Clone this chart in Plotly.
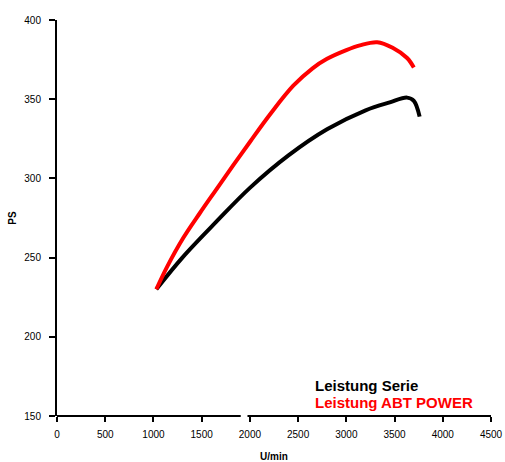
import plotly.graph_objects as go

# ---- data ----
series_names = ["Leistung Serie", "Leistung ABT POWER"]
serie_rpm = [1030, 1300, 1650, 2000, 2400, 2800, 3200, 3450, 3630, 3700, 3760]
serie_ps = [230, 250, 272.5, 294, 314.5, 331, 343, 348, 351, 349, 339]
abt_rpm = [1030, 1140, 1310, 1480, 1640, 1830, 2000, 2210, 2450, 2650, 2800, 3000, 3140, 3320, 3480, 3630, 3700]
abt_ps = [230, 244, 262.5, 278, 292, 308.5, 323, 340.5, 358.5, 369.5, 375.5, 381, 384, 386, 382.5, 376, 370]
x_ticks = [0, 500, 1000, 1500, 2000, 2500, 3000, 3500, 4000, 4500]
y_ticks = [150, 200, 250, 300, 350, 400]
x_break = [1905, 1975]  # gap in the x axis line
colors = ["#000000", "#ff0000"]

FONT = "Liberation Sans, Arial, sans-serif"

fig = go.Figure()
for xs, ys, c, n in [(serie_rpm, serie_ps, colors[0], series_names[0]),
                     (abt_rpm, abt_ps, colors[1], series_names[1])]:
    fig.add_trace(go.Scatter(x=xs, y=ys, mode="lines", name=n,
                             line=dict(color=c, width=4, shape="spline", smoothing=1.0),
                             showlegend=False, hoverinfo="skip"))

# x-axis line with a break
for x0, x1 in [(x_ticks[0], x_break[0]), (x_break[1], x_ticks[-1])]:
    fig.add_shape(type="line", xref="x", yref="paper", x0=x0, x1=x1, y0=0, y1=0,
                  line=dict(color="black", width=2))

# legend as coloured text
for i, (n, c) in enumerate(zip(series_names, colors)):
    fig.add_annotation(text=n, x=0.59, y=0.078 - i * 0.045, xref="paper", yref="paper",
                       xanchor="left", yanchor="middle", showarrow=False,
                       font=dict(family=FONT, size=15, color=c, weight="bold"))

fig.update_layout(
    width=505, height=462,
    margin=dict(l=57, r=14, t=20, b=46, autoexpand=False),
    paper_bgcolor="white", plot_bgcolor="white",
    font=dict(family=FONT, size=10, color="black"),
    xaxis=dict(range=[0, 4500], tickvals=x_ticks, ticks="outside", ticklen=5,
               tickwidth=2, tickcolor="black", showline=False, showgrid=False,
               zeroline=False, automargin=False, ticklabelstandoff=4,
               title=dict(text="U/min", font=dict(size=10, weight="bold"), standoff=14)),
    yaxis=dict(range=[150, 400], tickvals=y_ticks, ticks="outside", ticklen=6,
               tickwidth=2, tickcolor="black", showline=True, linecolor="black",
               linewidth=2, showgrid=False, zeroline=False, automargin=False,
               ticklabelstandoff=6,
               title=dict(text="PS", font=dict(size=10, weight="bold"), standoff=6)),
)

fig.write_html("out.html", config={"displayModeBar": False},
               post_script="document.body.style.margin='0';document.body.style.overflow='hidden';")
